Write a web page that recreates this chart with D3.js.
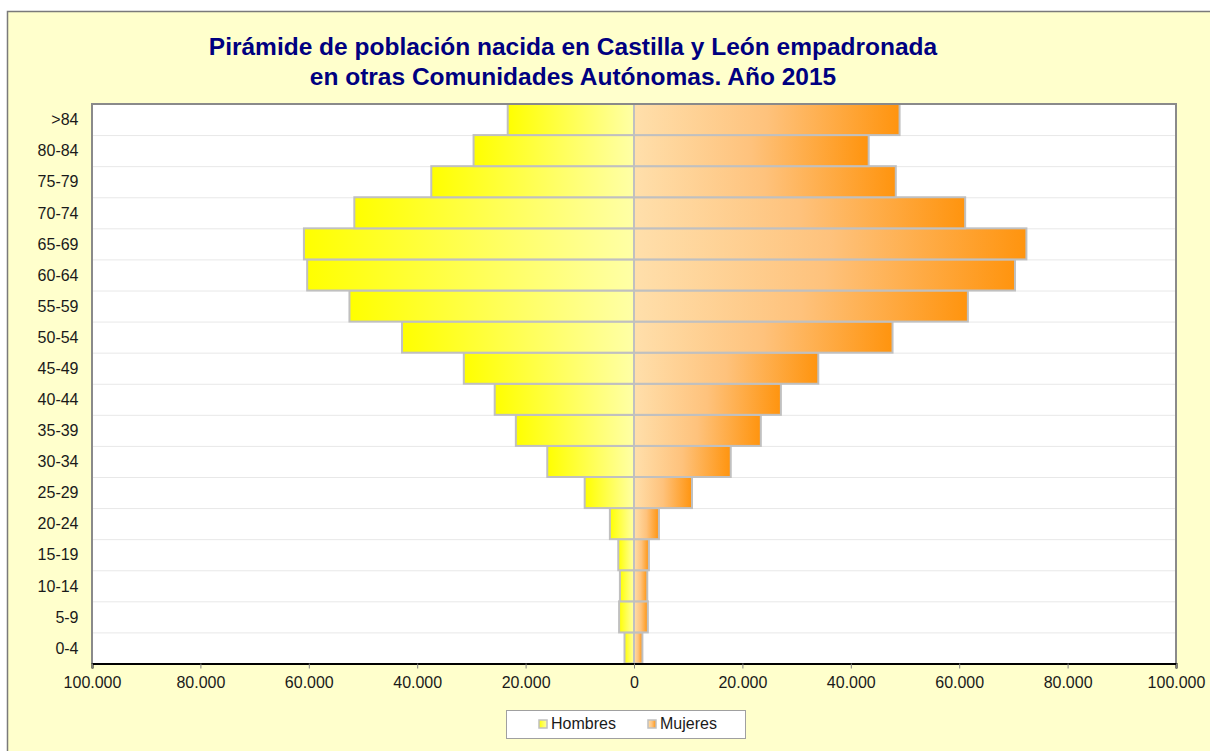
<!DOCTYPE html>
<html>
<meta charset="utf-8">
<head>
  <script src="https://d3js.org/d3.v7.min.js"></script>
  <style>
  body { margin: 0; background: #fff; }
  svg { display: block; font-family: "Liberation Sans", Arial, sans-serif; }
  .ylab { font-size: 16px; fill: #1a1a1a; }
  .xaxis text { font-size: 16px; fill: #1a1a1a; font-family: "Liberation Sans", Arial, sans-serif; }
  .title { font-size: 24.5px; font-weight: bold; fill: #000080; }
  .legtext { font-size: 16px; fill: #1a1a1a; }
  </style>
</head>
<body>
<div id="chart"></div>
<script>

// age groups, bottom to top
var ages = ["0-4","5-9","10-14","15-19","20-24","25-29","30-34","35-39","40-44",
            "45-49","50-54","55-59","60-64","65-69","70-74","75-79","80-84",">84"]

var hombres = [1750, 2750, 2600, 2900, 4450, 9100, 16000, 21800, 25700,
               31400, 42800, 52500, 60300, 60900, 51600, 37400, 29600, 23300]

var mujeres = [1550, 2550, 2450, 2750, 4600, 10700, 17850, 23400, 27100,
               34000, 47700, 61600, 70300, 72400, 61100, 48300, 43300, 49000]

var xTicks = [-100000, -80000, -60000, -40000, -20000, 0, 20000, 40000, 60000, 80000, 100000]

var seriesNames = ["Hombres", "Mujeres"]

var W = 1210, H = 751
var plot = {left: 92, right: 1176, top: 104, bottom: 663.5}

var es = d3.formatLocale({decimal: ",", thousands: ".", grouping: [3], currency: ["", " €"]})
var fmt = es.format(",d")

var svg = d3.select("#chart").append("svg")
    .attr("width", W)
    .attr("height", H)

var defs = svg.append("defs")

var gH = defs.append("linearGradient").attr("id", "gradH")
gH.append("stop").attr("offset", "0%").attr("stop-color", "#ffff00")
gH.append("stop").attr("offset", "100%").attr("stop-color", "#ffffa6")

var gM = defs.append("linearGradient").attr("id", "gradM")
gM.append("stop").attr("offset", "0%").attr("stop-color", "#ffdfab")
gM.append("stop").attr("offset", "50%").attr("stop-color", "#fec27c")
gM.append("stop").attr("offset", "100%").attr("stop-color", "#ff940e")

// chart area background
svg.append("rect")
    .attr("x", 7.5).attr("y", 11.5)
    .attr("width", W).attr("height", H)
    .attr("fill", "#ffffcc")
    .attr("stroke", "#7a7a7a")
    .attr("stroke-width", 1.5)

// plot area
svg.append("rect")
    .attr("x", plot.left).attr("y", plot.top)
    .attr("width", plot.right - plot.left).attr("height", plot.bottom - plot.top)
    .attr("fill", "#fff")

var x = d3.scaleLinear().domain([-100000, 100000]).range([plot.left, plot.right])
var y = d3.scaleBand().domain(ages.slice().reverse()).range([plot.top, plot.bottom]).padding(0)

// horizontal grid lines
svg.append("g").selectAll("line")
    .data(ages.slice(0, ages.length - 1))
  .enter().append("line")
    .attr("x1", plot.left).attr("x2", plot.right)
    .attr("y1", function(d) { return y(d) + 0.5 })
    .attr("y2", function(d) { return y(d) + 0.5 })
    .attr("stroke", "#e8e8e8")
    .attr("stroke-width", 1)

var rows = ages.map(function(a, i) { return {age: a, h: hombres[i], m: mujeres[i]} })

var bars = svg.append("g")

bars.selectAll(".hb").data(rows)
  .enter().append("rect")
    .attr("class", "hb")
    .attr("x", function(d) { return x(-d.h) })
    .attr("y", function(d) { return y(d.age) })
    .attr("width", function(d) { return x(0) - x(-d.h) })
    .attr("height", y.bandwidth())
    .attr("fill", "url(#gradH)")
    .attr("stroke", "#c0c0c0")
    .attr("stroke-width", 2)

bars.selectAll(".mb").data(rows)
  .enter().append("rect")
    .attr("class", "mb")
    .attr("x", x(0))
    .attr("y", function(d) { return y(d.age) })
    .attr("width", function(d) { return x(d.m) - x(0) })
    .attr("height", y.bandwidth())
    .attr("fill", "url(#gradM)")
    .attr("stroke", "#c0c0c0")
    .attr("stroke-width", 2)

// plot border (top, left, right)
svg.append("path")
    .attr("d", "M" + plot.left + "," + plot.bottom + "V" + plot.top + "H" + plot.right + "V" + plot.bottom)
    .attr("fill", "none")
    .attr("stroke", "#8a8a8a")
    .attr("stroke-width", 2)

// x axis
var xAxis = d3.axisBottom(x)
    .tickValues(xTicks)
    .tickSize(5)
    .tickPadding(8)
    .tickFormat(function(d) { return fmt(Math.abs(d)) })

var xg = svg.append("g")
    .attr("class", "xaxis")
    .attr("transform", "translate(0," + plot.bottom + ")")
    .call(xAxis)
xg.select(".domain").attr("stroke", "#000").attr("stroke-width", 2)
xg.selectAll(".tick line").attr("stroke", "#808080")

// y labels
svg.append("g").selectAll("text")
    .data(ages)
  .enter().append("text")
    .attr("class", "ylab")
    .attr("x", 78.5)
    .attr("y", function(d) { return y(d) + y.bandwidth() / 2 })
    .attr("dy", "0.36em")
    .attr("text-anchor", "end")
    .text(function(d) { return d })

// title
var title = svg.append("text")
    .attr("class", "title")
    .attr("text-anchor", "middle")
    .attr("x", 573)
    .attr("y", 54.5)
title.append("tspan").attr("x", 573).text("Pirámide de población nacida en Castilla y León empadronada")
title.append("tspan").attr("x", 573).attr("y", 84.5).text("en otras Comunidades Autónomas. Año 2015")

// legend
var leg = svg.append("g")
leg.append("rect")
    .attr("x", 506.5).attr("y", 710.5)
    .attr("width", 239).attr("height", 28)
    .attr("fill", "#fff")
    .attr("stroke", "#a0a0a0")

var legX = [539, 648]
var legFill = ["url(#gradH)", "url(#gradM)"]
seriesNames.forEach(function(name, i) {
  leg.append("rect")
      .attr("x", legX[i]).attr("y", 720)
      .attr("width", 8).attr("height", 8)
      .attr("fill", legFill[i])
      .attr("stroke", "#c0c0c0")
      .attr("stroke-width", 1.5)
  leg.append("text")
      .attr("class", "legtext")
      .attr("x", legX[i] + 12)
      .attr("y", 729)
      .text(name)
})

</script>
</body>
</html>
